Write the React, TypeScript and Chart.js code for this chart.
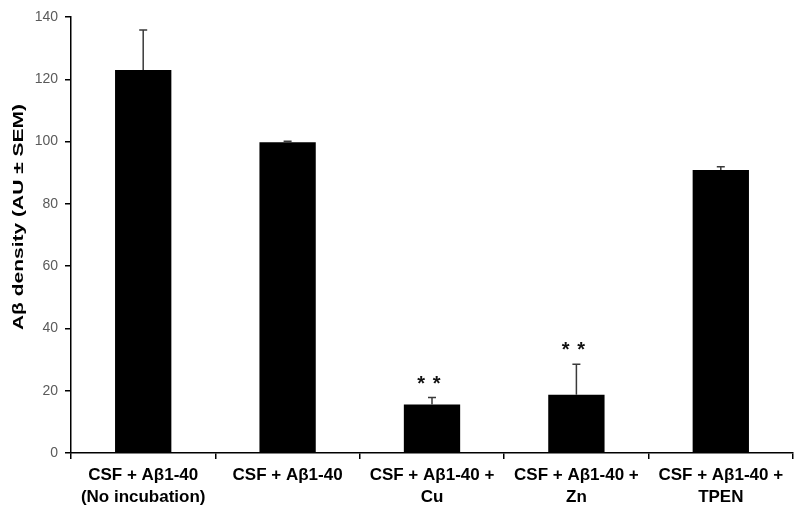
import React, { useEffect, useRef } from "react";
import { Chart, registerables } from "chart.js";

Chart.register(...registerables);

const categories: string[][] = [
  ["CSF + Aβ1-40", "(No incubation)"],
  ["CSF + Aβ1-40"],
  ["CSF + Aβ1-40 +", "Cu"],
  ["CSF + Aβ1-40 +", "Zn"],
  ["CSF + Aβ1-40 +", "TPEN"],
];
const values = [123, 99.8, 15.6, 18.7, 90.9];
const errors = [12.8, 0.3, 2.2, 9.8, 1.0];
const significance = ["", "", "**", "**", ""];
const yTitle = "Aβ density (AU ± SEM)";

const FONT = "'Liberation Sans', Arial, Helvetica, sans-serif";

const errorBarPlugin = {
  id: "errorBars",
  afterDatasetsDraw(chart: any) {
    const ctx = chart.ctx;
    const meta = chart.getDatasetMeta(0);
    const yScale = chart.scales.y;
    ctx.save();
    meta.data.forEach((bar: any, i: number) => {
      const x = bar.x;
      const yTop = yScale.getPixelForValue(values[i]);
      const yErr = yScale.getPixelForValue(values[i] + errors[i]);
      ctx.strokeStyle = "#3a3a3a";
      ctx.lineWidth = 1.5;
      ctx.beginPath();
      ctx.moveTo(x, yTop);
      ctx.lineTo(x, yErr);
      ctx.moveTo(x - 4, yErr);
      ctx.lineTo(x + 4, yErr);
      ctx.stroke();
      const sig = significance[i];
      if (sig) {
        ctx.fillStyle = "#111";
        ctx.font = `bold 20px ${FONT}`;
        ctx.textAlign = "center";
        ctx.textBaseline = "alphabetic";
        const n = sig.length;
        const spacing = 15.5;
        const cy = yErr - 19.5;
        for (let k = 0; k < n; k++) {
          const cx = x - 3 + (k - (n - 1) / 2) * spacing;
          ctx.fillText(sig[k], cx, cy + 11.5);
        }
      }
    });
    ctx.restore();
  },
  afterDraw(chart: any) {
    const ctx = chart.ctx;
    ctx.save();
    ctx.translate(19.5, 217);
    ctx.rotate(-Math.PI / 2);
    ctx.scale(1.5, 1);
    ctx.fillStyle = "#000";
    ctx.font = `bold 14px ${FONT}`;
    ctx.textAlign = "center";
    ctx.textBaseline = "middle";
    ctx.fillText(yTitle, 0, 0);
    ctx.restore();
  },
};

export default function App() {
  const ref = useRef<HTMLCanvasElement | null>(null);
  useEffect(() => {
    if (!ref.current) return;
    const chart = new Chart(ref.current, {
      type: "bar",
      data: {
        labels: categories,
        datasets: [
          {
            data: values,
            backgroundColor: "#000",
            borderWidth: 0,
            barPercentage: 0.39,
            categoryPercentage: 1,
          },
        ],
      },
      options: {
        animation: false,
        responsive: false,
        maintainAspectRatio: false,
        layout: { padding: { top: 17, right: 7, left: 0, bottom: 0 } },
        plugins: { legend: { display: false }, tooltip: { enabled: false } },
        scales: {
          x: {
            grid: {
              offset: true,
              drawOnChartArea: false,
              drawTicks: true,
              tickLength: 6,
              color: "#000",
              lineWidth: 1.5,
            },
            border: { color: "#000", width: 1.5 },
            ticks: {
              autoSkip: false,
              maxRotation: 0,
              minRotation: 0,
              color: "#000",
              padding: 5,
              font: { family: FONT, size: 17, weight: "bold", lineHeight: 1.3 },
            },
            afterFit(scale: any) {
              scale.height = 67;
            },
          },
          y: {
            min: 0,
            max: 140,
            ticks: {
              stepSize: 20,
              color: "#5a5a5a",
              padding: 7,
              font: { family: FONT, size: 14 },
            },
            grid: {
              drawOnChartArea: false,
              drawTicks: true,
              tickLength: 6,
              color: "#000",
              lineWidth: 1.5,
            },
            border: { color: "#000", width: 1.5 },
            afterFit(scale: any) {
              scale.width = 71;
            },
          },
        },
      },
      plugins: [errorBarPlugin],
    });
    return () => chart.destroy();
  }, []);
  return (
    <div style={{ position: "fixed", left: 0, top: 0, width: 800, height: 520, background: "#fff" }}>
      <canvas ref={ref} width={800} height={520} />
    </div>
  );
}
